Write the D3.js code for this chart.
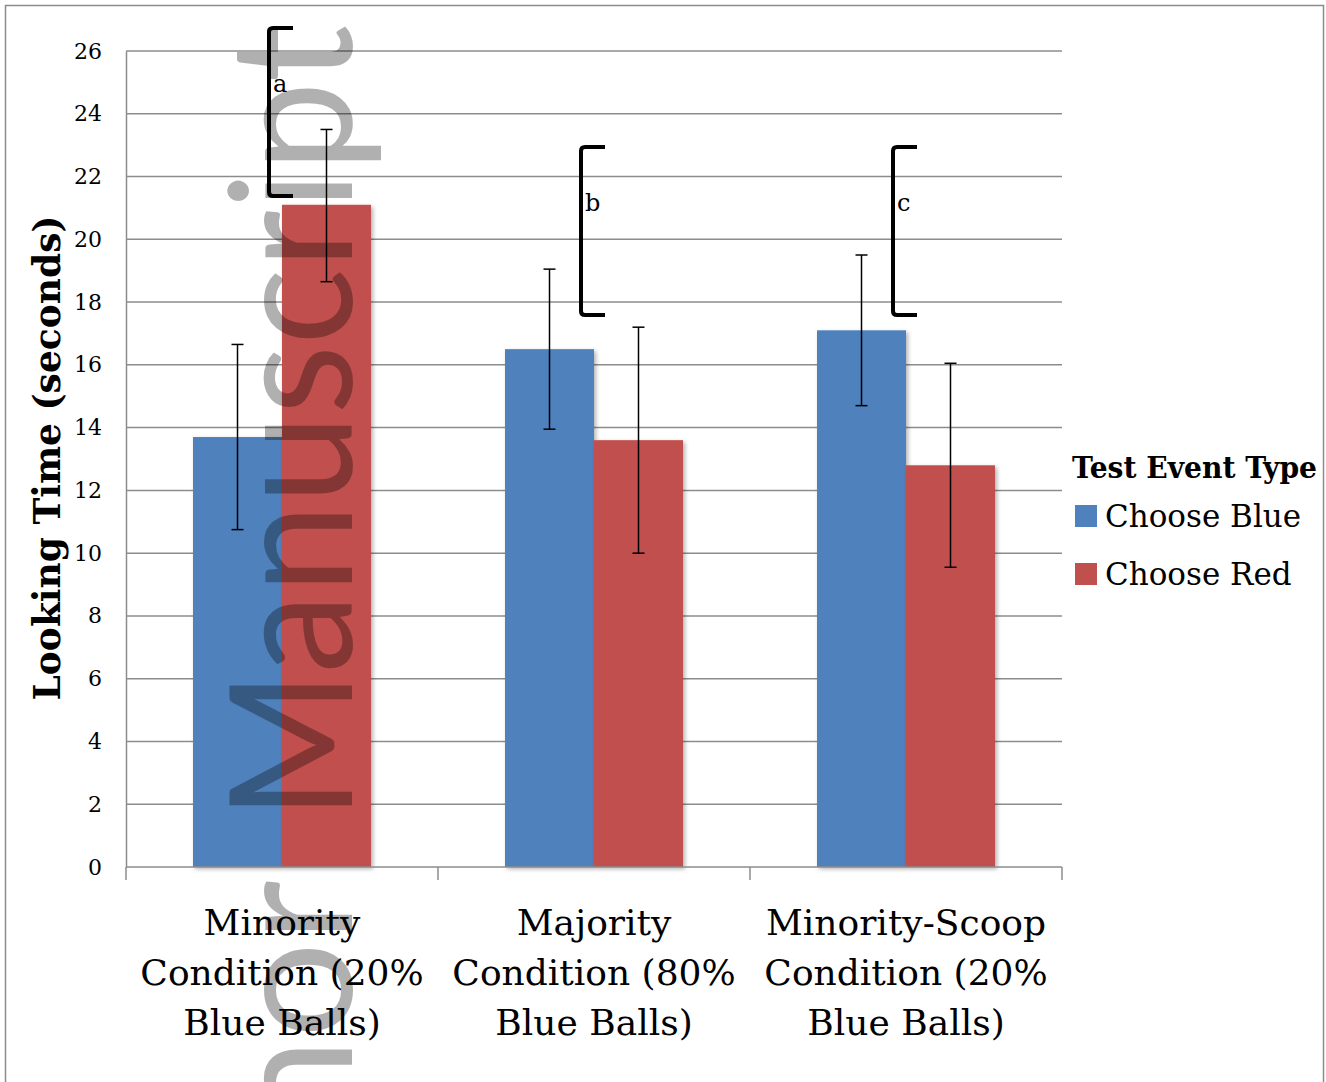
<!DOCTYPE html>
<html>
<head>
<meta charset="utf-8">
<script src="https://cdn.jsdelivr.net/npm/d3@7"></script>
<style>
  body { margin: 0; background: #fff; }
  svg { display: block; }
</style>
</head>
<body>
<div class="chart"></div>
<script>
// Conditions (x categories) and series
const conditions = [
    ["Minority", "Condition (20%", "Blue Balls)"],
    ["Majority", "Condition (80%", "Blue Balls)"],
    ["Minority-Scoop", "Condition (20%", "Blue Balls)"]
];
const conditionKeys = ["minority", "majority", "scoop"];
const seriesNames = ["Choose Blue", "Choose Red"];
const seriesColors = ["#4f81bd", "#c0504d"];

// Mean looking times (seconds)
const chooseBlue = [13.7, 16.5, 17.1];
const chooseRed = [21.1, 13.6, 12.8];
// Error bar ends
const blueHigh = [16.65, 19.05, 19.5];
const blueLow = [10.75, 13.95, 14.7];
const redHigh = [23.5, 17.2, 16.05];
const redLow = [18.65, 10.0, 9.55];

// Significance brackets
const bracketLetters = ["a", "b", "c"];
const bracketTop = [26.73, 22.94, 22.94];
const bracketBottom = [21.38, 17.59, 17.59];

const yTicks = [0, 2, 4, 6, 8, 10, 12, 14, 16, 18, 20, 22, 24, 26];

const W = 1326, H = 1082;
const margin = { top: 51, left: 126, right: 264, bottom: 215 };
const width = W - margin.left - margin.right;
const height = H - margin.top - margin.bottom;

const svg = d3.select(".chart").append("svg")
    .attr("width", W)
    .attr("height", H);

// outer frame
svg.append("rect")
    .attr("x", 5.5).attr("y", 5.5)
    .attr("width", 1318).attr("height", 1100)
    .attr("fill", "none")
    .attr("stroke", "#8c8c8c")
    .attr("stroke-width", 1.5);

const defs = svg.append("defs");
const shadow = defs.append("filter").attr("id", "shadow")
    .attr("x", "-10%").attr("y", "-10%").attr("width", "130%").attr("height", "130%");
shadow.append("feDropShadow")
    .attr("dx", 2).attr("dy", 2).attr("stdDeviation", 2)
    .attr("flood-color", "#000").attr("flood-opacity", 0.3);

const g = svg.append("g")
    .attr("transform", `translate(${margin.left},${margin.top})`);

const x0 = d3.scaleBand()
    .domain(conditionKeys)
    .range([0, width]);

const x1 = d3.scaleBand()
    .domain(seriesNames)
    .range([0, x0.bandwidth()])
    .paddingOuter(0.753);

const y = d3.scaleLinear()
    .domain([0, 26])
    .range([height, 0]);

// gridlines
g.append("g")
    .selectAll("line")
    .data(yTicks.slice(1))
    .enter().append("line")
    .attr("x1", 0).attr("x2", width)
    .attr("y1", d => y(d)).attr("y2", d => y(d))
    .attr("stroke", "#8c8c8c")
    .attr("stroke-width", 1.5);

// y axis
const yAxis = g.append("g")
    .call(d3.axisLeft(y).tickValues(yTicks).tickSize(0).tickPadding(24));
yAxis.select(".domain").attr("stroke", "#8c8c8c").attr("stroke-width", 1.5);
yAxis.selectAll("text")
    .attr("font-family", "DejaVu Serif")
    .attr("font-size", 22)
    .attr("fill", "#000");

// bars
const rows = conditionKeys.map((k, i) => ({
    key: k,
    values: [
        { series: seriesNames[0], value: chooseBlue[i], hi: blueHigh[i], lo: blueLow[i], color: seriesColors[0] },
        { series: seriesNames[1], value: chooseRed[i], hi: redHigh[i], lo: redLow[i], color: seriesColors[1] }
    ]
}));

const groups = g.selectAll("g.group")
    .data(rows)
    .enter().append("g")
    .attr("class", "group")
    .attr("transform", d => `translate(${x0(d.key)},0)`);

groups.selectAll("rect")
    .data(d => d.values)
    .enter().append("rect")
    .attr("x", d => x1(d.series))
    .attr("y", d => y(d.value))
    .attr("width", x1.bandwidth())
    .attr("height", d => y(0) - y(d.value))
    .attr("fill", d => d.color)
    .attr("filter", "url(#shadow)");

// x axis (drawn over bar bottoms)
const xAxis = g.append("g")
    .attr("transform", `translate(0,${height})`);
xAxis.append("line")
    .attr("x1", 0).attr("x2", width)
    .attr("stroke", "#8c8c8c").attr("stroke-width", 1.5);
xAxis.selectAll("line.tick")
    .data(d3.range(conditionKeys.length + 1))
    .enter().append("line")
    .attr("class", "tick")
    .attr("x1", i => i * x0.step()).attr("x2", i => i * x0.step())
    .attr("y1", 0).attr("y2", 13)
    .attr("stroke", "#8c8c8c").attr("stroke-width", 1.5);

// category labels
xAxis.selectAll("text.cat")
    .data(conditions)
    .enter().append("text")
    .attr("class", "cat")
    .attr("x", (d, i) => x0(conditionKeys[i]) + x0.bandwidth() / 2)
    .attr("y", 68)
    .attr("text-anchor", "middle")
    .attr("font-family", "DejaVu Serif")
    .attr("font-size", 36)
    .attr("fill", "#000")
    .selectAll("tspan")
    .data(d => d)
    .enter().append("tspan")
    .attr("x", function () { return this.parentNode.getAttribute("x"); })
    .attr("dy", (d, i) => i === 0 ? 0 : 50)
    .text(d => d);

// error bars
const err = groups.selectAll("g.err")
    .data(d => d.values)
    .enter().append("g")
    .attr("class", "err")
    .attr("transform", d => `translate(${x1(d.series) + x1.bandwidth() / 2},0)`);
err.append("line")
    .attr("y1", d => y(d.hi)).attr("y2", d => y(d.lo))
    .attr("stroke", "#000").attr("stroke-width", 1.5);
err.selectAll("line.cap")
    .data(d => [d.hi, d.lo])
    .enter().append("line")
    .attr("class", "cap")
    .attr("x1", -6).attr("x2", 6)
    .attr("y1", d => y(d)).attr("y2", d => y(d))
    .attr("stroke", "#000").attr("stroke-width", 1.5);

// significance brackets
const br = g.selectAll("g.bracket")
    .data(conditionKeys.map((k, i) => ({ key: k, letter: bracketLetters[i], top: bracketTop[i], bottom: bracketBottom[i] })))
    .enter().append("g")
    .attr("class", "bracket")
    .attr("transform", d => `translate(${x0(d.key) + 143},0)`);
br.append("path")
    .attr("d", d => {
        const t = y(d.top), b = y(d.bottom);
        return `M24,${t} L4,${t} Q0,${t} 0,${t + 4} L0,${b - 4} Q0,${b} 4,${b} L24,${b}`;
    })
    .attr("fill", "none")
    .attr("stroke", "#000")
    .attr("stroke-width", 4);
br.append("text")
    .attr("x", 4)
    .attr("y", d => y(d.top) + 64)
    .attr("font-family", "DejaVu Serif")
    .attr("font-size", 24)
    .attr("fill", "#000")
    .text(d => d.letter);

// y axis title
svg.append("text")
    .attr("transform", "translate(60,458) rotate(-90)")
    .attr("text-anchor", "middle")
    .attr("font-family", "DejaVu Serif")
    .attr("font-weight", "bold")
    .attr("font-size", 38)
    .attr("textLength", 485)
    .attr("lengthAdjust", "spacingAndGlyphs")
    .attr("fill", "#000")
    .text("Looking Time (seconds)");

// legend
const legend = svg.append("g").attr("transform", "translate(1072,0)");
legend.append("text")
    .attr("x", 0).attr("y", 478)
    .attr("font-family", "DejaVu Serif")
    .attr("font-weight", "bold")
    .attr("font-size", 29)
    .attr("textLength", 245)
    .attr("lengthAdjust", "spacingAndGlyphs")
    .attr("fill", "#000")
    .text("Test Event Type");
const items = legend.selectAll("g.item")
    .data(seriesNames)
    .enter().append("g")
    .attr("class", "item")
    .attr("transform", (d, i) => `translate(0,${505 + i * 58})`);
items.append("rect")
    .attr("x", 3).attr("y", 0)
    .attr("width", 22).attr("height", 22)
    .attr("fill", (d, i) => seriesColors[i]);
items.append("text")
    .attr("x", 33).attr("y", 22)
    .attr("font-family", "DejaVu Serif")
    .attr("font-size", 31)
    .attr("fill", "#000")
    .text(d => d);

// watermark
const wm = svg.append("g")
    .attr("font-family", "Lato")
    .attr("font-size", 170)
    .attr("fill", "#000")
    .attr("fill-opacity", 0.31)
    .attr("pointer-events", "none");
wm.append("text")
    .attr("transform", "translate(352,820) rotate(-90)")
    .attr("textLength", 795)
    .attr("lengthAdjust", "spacingAndGlyphs")
    .text("Manuscript");
wm.append("text")
    .attr("transform", "translate(352,880) rotate(-90)")
    .attr("text-anchor", "end")
    .text("Author");
</script>
</body>
</html>
